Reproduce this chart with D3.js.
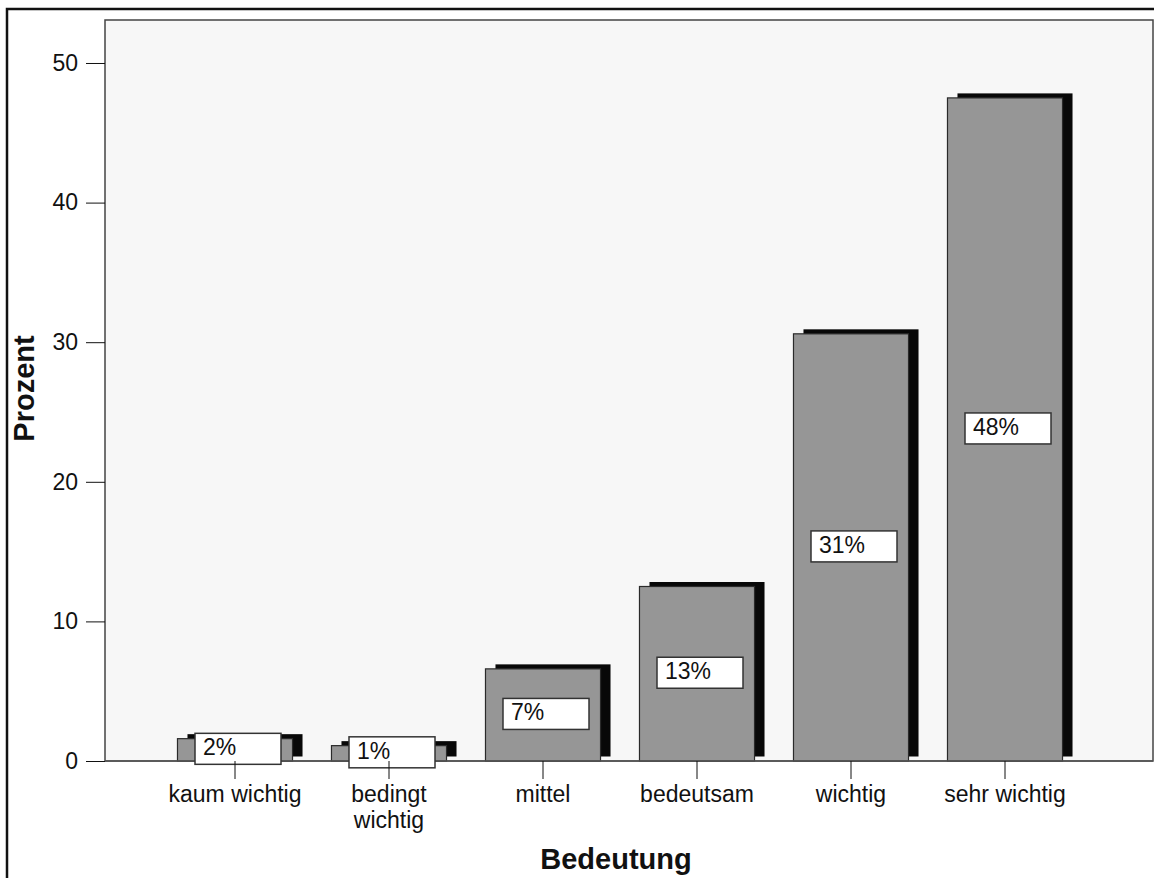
<!DOCTYPE html>
<html>
<head>
<meta charset="utf-8">
<script src="https://cdn.jsdelivr.net/npm/d3@7"></script>
<style>
    body { margin: 0; background: #fff; }
    svg { display: block; font-family: "Liberation Sans", Arial, sans-serif; }
</style>
</head>
<body>
<div id="chart"></div>
<script>
// data
const categories = ["kaum wichtig", "bedingt wichtig", "mittel", "bedeutsam", "wichtig", "sehr wichtig"];
const tickLabels = [["kaum wichtig"], ["bedingt", "wichtig"], ["mittel"], ["bedeutsam"], ["wichtig"], ["sehr wichtig"]];
const percents = [1.6, 1.1, 6.6, 12.5, 30.6, 47.5];
const yTicks = [0, 10, 20, 30, 40, 50];
const xTitle = "Bedeutung";
const yTitle = "Prozent";

const width = 1154, height = 878;
const plot = { left: 105, top: 20, right: 1153, bottom: 761 };
const shadow = { dx: 10, dy: -4.5 };

const data = categories.map((c, i) => ({ cat: c, value: percents[i], lines: tickLabels[i] }));

const svg = d3.select("#chart")
    .append("svg")
    .attr("width", width)
    .attr("height", height);

/** outer frame, runs off the right and bottom edge */
svg.append("rect")
    .attr("x", 7).attr("y", 9)
    .attr("width", width).attr("height", height)
    .attr("fill", "none")
    .attr("stroke", "#111")
    .attr("stroke-width", 2.5);

/** plot area */
svg.append("rect")
    .attr("x", plot.left).attr("y", plot.top)
    .attr("width", plot.right - plot.left)
    .attr("height", plot.bottom - plot.top)
    .attr("fill", "#f7f7f7")
    .attr("stroke", "#444")
    .attr("stroke-width", 1.5);

const x = d3.scaleBand()
    .domain(categories)
    .range([plot.left + 53, plot.right - 71])
    .paddingInner(0.253)
    .paddingOuter(0.1265);

const y = d3.scaleLinear()
    .domain([0, 53.08])
    .range([plot.bottom, plot.top]);

/** shadows first, then the grey bars on top */
svg.append("g").selectAll("rect")
    .data(data)
    .enter()
    .append("rect")
        .attr("x", d => x(d.cat) + shadow.dx)
        .attr("y", d => y(d.value) + shadow.dy)
        .attr("width", x.bandwidth())
        .attr("height", d => y(0) - y(d.value))
        .attr("fill", "#080808");

svg.append("g").selectAll("rect")
    .data(data)
    .enter()
    .append("rect")
        .attr("x", d => x(d.cat))
        .attr("y", d => y(d.value))
        .attr("width", x.bandwidth())
        .attr("height", d => y(0) - y(d.value))
        .attr("fill", "#969696")
        .attr("stroke", "#2a2a2a")
        .attr("stroke-width", 1.2);

/** baseline */
svg.append("line")
    .attr("x1", plot.left).attr("x2", plot.right)
    .attr("y1", y(0)).attr("y2", y(0))
    .attr("stroke", "#555")
    .attr("stroke-width", 1.5);

/** percent boxes */
const labels = svg.append("g").selectAll("g")
    .data(data)
    .enter()
    .append("g")
        .attr("transform", d => `translate(${x(d.cat) + x.bandwidth() / 2 - 40},${y(d.value / 2) - 1 - 15.5})`);

labels.append("rect")
    .attr("width", 86)
    .attr("height", 31)
    .attr("fill", "#fff")
    .attr("stroke", "#333")
    .attr("stroke-width", 1.5);

labels.append("text")
    .attr("x", 8)
    .attr("y", 22)
    .attr("font-size", 23)
    .attr("fill", "#111")
    .text(d => `${Math.round(d.value)}%`);

/** y axis */
const yAxis = svg.append("g")
    .attr("transform", `translate(${plot.left},0)`)
    .call(d3.axisLeft(y).tickValues(yTicks).tickSize(19).tickPadding(8));

yAxis.select(".domain").remove();
yAxis.selectAll("line").attr("stroke", "#111");
yAxis.selectAll("text")
    .attr("font-size", 23)
    .attr("font-family", "Liberation Sans, Arial, sans-serif")
    .attr("fill", "#111");

/** x axis */
const xAxis = svg.append("g")
    .attr("transform", `translate(0,${plot.bottom})`)
    .call(d3.axisBottom(x).tickSize(18).tickSizeOuter(0));

xAxis.select(".domain").remove();
xAxis.selectAll("line").attr("stroke", "#111");
xAxis.selectAll("text")
    .attr("font-size", 23)
    .attr("font-family", "Liberation Sans, Arial, sans-serif")
    .attr("fill", "#111")
    .attr("dy", null)
    .attr("y", 41)
    .text(null)
    .each(function(d, i){
        let t = d3.select(this);
        tickLabels[i].forEach((line, k) => {
            t.append("tspan")
                .attr("x", 0)
                .attr("dy", k === 0 ? 0 : 26)
                .text(line);
        });
    });

/** titles */
svg.append("text")
    .attr("x", 616)
    .attr("y", 869)
    .attr("text-anchor", "middle")
    .attr("font-size", 29)
    .attr("font-weight", "bold")
    .attr("fill", "#111")
    .text(xTitle);

svg.append("text")
    .attr("transform", `translate(34,${(plot.top + plot.bottom) / 2 - 2}) rotate(-90)`)
    .attr("text-anchor", "middle")
    .attr("font-size", 29)
    .attr("font-weight", "bold")
    .attr("fill", "#111")
    .text(yTitle);
</script>
</body>
</html>
